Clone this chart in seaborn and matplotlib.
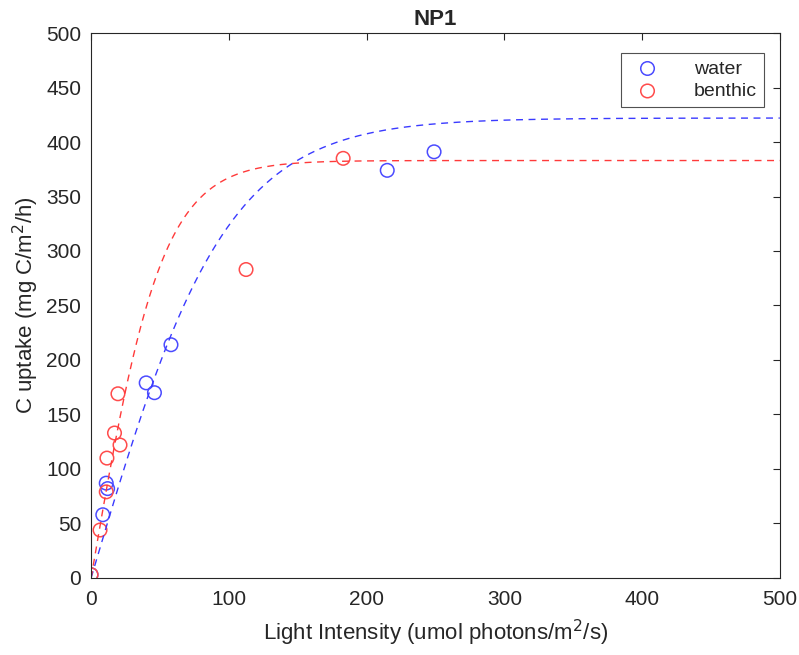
import numpy as np
import pandas as pd
import matplotlib
matplotlib.use("Agg")
import matplotlib.pyplot as plt
import seaborn as sns

water_light = [0, 8.5, 11, 12, 40, 46, 58, 215, 249]
water_uptake = [3, 58, 87, 82, 179, 170, 214, 374, 391]
benthic_light = [0, 6.5, 11, 11.5, 17, 19.5, 21, 112.5, 183]
benthic_uptake = [3, 44, 79, 110, 133, 169, 122, 283, 385]

# fitted P-I curve parameters (tanh model: P = Pmax * tanh(alpha * I / Pmax))
water_pmax, water_alpha = 422.0, 4.27
benthic_pmax, benthic_alpha = 383.0, 7.4

WATER_COLOR = "#3a3aff"
BENTHIC_COLOR = "#ff3a3a"


def main() -> None:
    sns.set_style("white")
    plt.rcParams["font.family"] = ["Liberation Sans", "DejaVu Sans"]

    fig = plt.figure(figsize=(7.99, 6.55), dpi=100)
    ax = fig.add_axes([0.114, 0.1176, 0.862, 0.832])

    light = np.linspace(0, 500, 501)
    fits = pd.DataFrame({
        "light": np.concatenate([light, light]),
        "uptake": np.concatenate([
            water_pmax * np.tanh(water_alpha * light / water_pmax),
            benthic_pmax * np.tanh(benthic_alpha * light / benthic_pmax),
        ]),
        "group": ["water"] * len(light) + ["benthic"] * len(light),
    })
    sns.lineplot(data=fits, x="light", y="uptake", hue="group",
                 palette={"water": WATER_COLOR, "benthic": BENTHIC_COLOR},
                 linestyle=(0, (5, 4)), linewidth=1.0, legend=False, ax=ax)

    sns.scatterplot(x=water_light, y=water_uptake, marker="o", s=95,
                    fc="none", ec="#4b4bff", linewidth=1.1, label="water", ax=ax)
    sns.scatterplot(x=benthic_light, y=benthic_uptake, marker="o", s=95,
                    fc="none", ec="#ff4b4b", linewidth=1.1, label="benthic", ax=ax)

    ax.set_xlim(0, 500)
    ax.set_ylim(0, 500)
    ax.set_xticks(range(0, 501, 100))
    ax.set_yticks(range(0, 501, 50))
    ax.tick_params(direction="in", length=5, width=0.8, labelsize=15, colors="#262626",
                   top=True, right=True, pad=7)
    ax.tick_params(axis="x", pad=9)
    for spine in ax.spines.values():
        spine.set_color("#262626")
        spine.set_linewidth(0.8)

    ax.set_xlabel("Light Intensity (umol photons/m$^2$/s)", fontsize=16, color="#262626",
                  labelpad=6)
    ax.set_ylabel("C uptake (mg C/m$^2$/h)", fontsize=16, color="#262626")
    ax.set_title("NP1", fontsize=16, fontweight="bold", pad=6)

    leg = ax.legend(loc="upper right", bbox_to_anchor=(0.977, 0.963), borderaxespad=0,
                    fontsize=14, frameon=True, fancybox=False, edgecolor="#262626",
                    handletextpad=1.4, borderpad=0.35, labelspacing=0.25)
    leg.get_frame().set_linewidth(0.8)

    fig.savefig("out.png", dpi=100)
    plt.close(fig)


if __name__ == "__main__":
    main()
